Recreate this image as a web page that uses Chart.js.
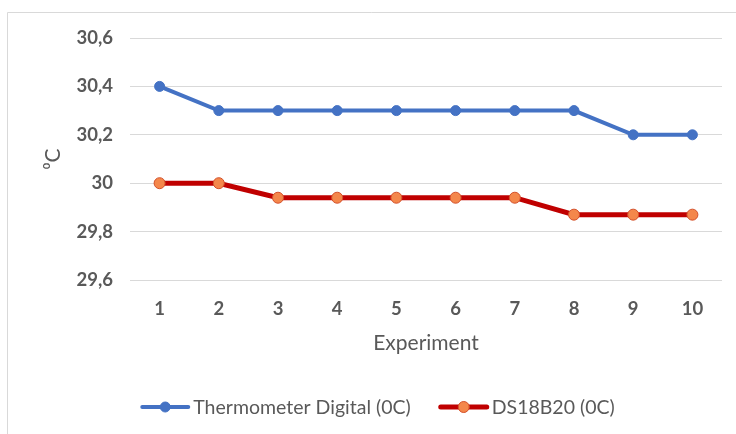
<!DOCTYPE html>
<html>
<head>
<meta charset="utf-8">
<script src="https://cdn.jsdelivr.net/npm/chart.js@4/dist/chart.umd.min.js"></script>
<style>
  html, body { margin: 0; padding: 0; background: #ffffff; }
  #wrap { width: 736px; height: 434px; position: relative; }
</style>
</head>
<body>
<div id="wrap"><canvas id="c" width="736" height="434"></canvas></div>
<script>
const categories = ['1', '2', '3', '4', '5', '6', '7', '8', '9', '10'];
const thermometerDigital = [30.4, 30.3, 30.3, 30.3, 30.3, 30.3, 30.3, 30.3, 30.2, 30.2];
const ds18b20 = [30.0, 30.0, 29.94, 29.94, 29.94, 29.94, 29.94, 29.87, 29.87, 29.87];
const seriesNames = ['Thermometer Digital (0C)', 'DS18B20 (0C)'];
const yMin = 29.6, yMax = 30.6, yStep = 0.2;
const yTitle = '\u2070C';
const xTitle = 'Experiment';

const FONT = 'Lato, "Open Sans", "Liberation Sans", sans-serif';
const GREY = '#595959';

const frame = {
  id: 'frame',
  beforeDraw(chart) {
    const ctx = chart.ctx;
    ctx.save();
    ctx.fillStyle = '#ffffff';
    ctx.fillRect(0, 0, chart.width, chart.height);
    ctx.strokeStyle = '#d9d9d9';
    ctx.lineWidth = 1;
    ctx.beginPath();
    ctx.moveTo(7.5, chart.height);
    ctx.lineTo(7.5, 12.5);
    ctx.lineTo(chart.width, 12.5);
    ctx.stroke();
    ctx.restore();
  }
};

const customLegend = {
  id: 'customLegend',
  afterDraw(chart) {
    const ctx = chart.ctx;
    ctx.save();
    ctx.font = '19.5px ' + FONT;
    ctx.textBaseline = 'middle';
    const lineLen = 50, gapText = 3, gapItem = 28;
    const items = chart.data.datasets.map(ds => ({ds, w: lineLen + gapText + ctx.measureText(ds.label).width}));
    const total = items.reduce((s, it) => s + it.w, 0) + gapItem * (items.length - 1);
    let x = 377.5 - total / 2;
    const y = 407;
    items.forEach(({ds, w}) => {
      ctx.strokeStyle = ds.borderColor;
      ctx.lineWidth = ds.borderWidth;
      ctx.lineCap = 'round';
      ctx.beginPath();
      ctx.moveTo(x + 2, y);
      ctx.lineTo(x + lineLen - 2, y);
      ctx.stroke();
      ctx.beginPath();
      ctx.arc(x + lineLen / 2, y, ds.pointRadius, 0, Math.PI * 2);
      ctx.fillStyle = ds.pointBackgroundColor;
      ctx.fill();
      ctx.lineWidth = ds.pointBorderWidth;
      ctx.strokeStyle = ds.pointBorderColor;
      ctx.stroke();
      ctx.fillStyle = GREY;
      ctx.textAlign = 'left';
      ctx.fillText(ds.label, x + lineLen + gapText, y + 1);
      x += w + gapItem;
    });
    ctx.restore();
  }
};

new Chart(document.getElementById('c'), {
  type: 'line',
  data: {
    labels: categories,
    datasets: [
      {
        label: seriesNames[0],
        data: thermometerDigital,
        borderColor: '#4472C4',
        borderWidth: 4,
        pointRadius: 5,
        pointBackgroundColor: '#4472C4',
        pointBorderColor: '#4472C4',
        pointBorderWidth: 1,
        tension: 0
      },
      {
        label: seriesNames[1],
        data: ds18b20,
        borderColor: '#C00000',
        borderWidth: 5,
        pointRadius: 5.5,
        pointBackgroundColor: '#F4874B',
        pointBorderColor: '#D4502A',
        pointBorderWidth: 1,
        tension: 0
      }
    ]
  },
  options: {
    responsive: false,
    animation: false,
    devicePixelRatio: 1,
    layout: { padding: { left: 0, right: 14, top: 38, bottom: 74 } },
    plugins: {
      legend: { display: false },
      tooltip: { enabled: false }
    },
    scales: {
      x: {
        offset: true,
        grid: { display: false, drawTicks: false },
        border: { display: false },
        ticks: { color: GREY, font: { family: FONT, size: 18.5, weight: 'bold' }, padding: 18 },
        title: { display: true, text: xTitle, color: GREY, font: { family: FONT, size: 21 }, padding: { top: 0, bottom: 4 } },
        afterFit(s) { s.height = 80; }
      },
      y: {
        min: yMin,
        max: yMax,
        grid: { color: '#d9d9d9', lineWidth: 1, drawTicks: false },
        border: { display: false },
        ticks: {
          stepSize: yStep,
          color: GREY,
          font: { family: FONT, size: 18.5, weight: 'bold' },
          padding: 17,
          callback: v => (Math.round(v * 10) / 10).toString().replace('.', ',')
        },
        title: { display: true, text: yTitle, color: GREY, font: { family: FONT, size: 21 }, padding: { top: 41, bottom: 0 } },
        afterFit(s) { s.width = 130; }
      }
    }
  },
  plugins: [frame, customLegend]
});
</script>
</body>
</html>
